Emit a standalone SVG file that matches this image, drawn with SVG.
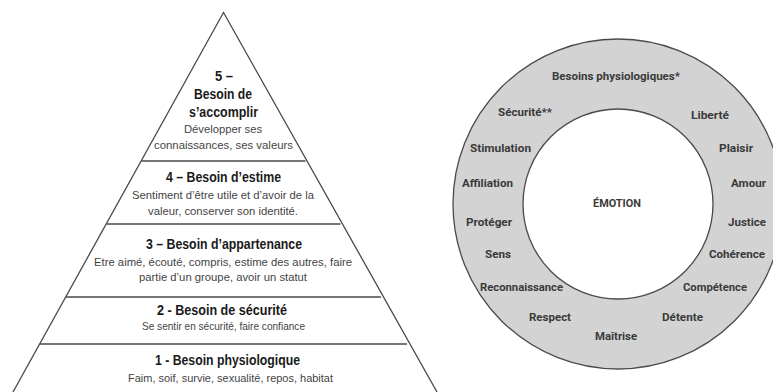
<svg xmlns="http://www.w3.org/2000/svg" width="773" height="392" viewBox="0 0 773 392">
<style>
.edge{fill:none;stroke:#4a4a4a;stroke-width:1.3}
.h{font-family:"Liberation Sans",Arial,sans-serif;font-weight:bold;font-size:14px;fill:#1a1a1a;text-anchor:middle}
.b{font-family:"Liberation Sans",Arial,sans-serif;font-size:11.5px;fill:#444;text-anchor:middle}
.r{font-family:"Roboto","DejaVu Sans",sans-serif;font-weight:bold;font-size:10.5px;fill:#3a3a3a;text-anchor:middle}
</style>
<rect width="773" height="392" fill="#fff"/>
<g id="connectors">
<path class="edge" d="M13,392 L223.5,12.5 L437,392"/>
<line class="edge" x1="141.5" y1="161" x2="305.5" y2="161"/>
<line class="edge" x1="106.5" y1="224" x2="340.5" y2="224"/>
<line class="edge" x1="66" y1="297" x2="381" y2="297"/>
<line class="edge" x1="40" y1="344" x2="407" y2="344"/>
</g>
<g id="level5">
<text class="h" x="224" y="81" textLength="18" lengthAdjust="spacingAndGlyphs">5 –</text>
<text class="h" x="223" y="99" textLength="58" lengthAdjust="spacingAndGlyphs">Besoin de</text>
<text class="h" x="223.5" y="117" textLength="69" lengthAdjust="spacingAndGlyphs">s’accomplir</text>
<text class="b" x="223" y="133" textLength="78" lengthAdjust="spacingAndGlyphs">Développer ses</text>
<text class="b" x="223.5" y="149" textLength="139" lengthAdjust="spacingAndGlyphs">connaissances, ses valeurs</text>
</g>
<g id="level4">
<text class="h" x="223.5" y="182" textLength="115" lengthAdjust="spacingAndGlyphs">4 – Besoin d’estime</text>
<text class="b" x="223" y="199" textLength="182" lengthAdjust="spacingAndGlyphs">Sentiment d’être utile et d’avoir de la</text>
<text class="b" x="223" y="215" textLength="150" lengthAdjust="spacingAndGlyphs">valeur, conserver son identité.</text>
</g>
<g id="level3">
<text class="h" x="224" y="249" textLength="156" lengthAdjust="spacingAndGlyphs">3 – Besoin d’appartenance</text>
<text class="b" x="223" y="266" textLength="258" lengthAdjust="spacingAndGlyphs">Etre aimé, écouté, compris, estime des autres, faire</text>
<text class="b" x="223" y="281" textLength="168" lengthAdjust="spacingAndGlyphs">partie d’un groupe, avoir un statut</text>
</g>
<g id="level2">
<text class="h" x="222" y="315" textLength="130" lengthAdjust="spacingAndGlyphs">2 - Besoin de sécurité</text>
<text class="b" x="223.5" y="330" textLength="163" lengthAdjust="spacingAndGlyphs">Se sentir en sécurité, faire confiance</text>
</g>
<g id="level1">
<text class="h" x="227.5" y="365" textLength="145" lengthAdjust="spacingAndGlyphs">1 - Besoin physiologique</text>
<text class="b" x="230.5" y="382" textLength="205" lengthAdjust="spacingAndGlyphs">Faim, soif, survie, sexualité, repos, habitat</text>
</g>
<g id="ring">
<circle cx="618" cy="204" r="165" fill="#d3d3d3" stroke="#4a4a4a" stroke-width="1.3"/>
<circle cx="618" cy="204" r="95" fill="#fff" stroke="#4a4a4a" stroke-width="1.3"/>
</g>
<g id="emotion">
<text class="r" x="617" y="207" textLength="48" lengthAdjust="spacingAndGlyphs">ÉMOTION</text>
</g>
<g id="needs">
<text class="r" x="616" y="80" textLength="128" lengthAdjust="spacingAndGlyphs">Besoins physiologiques*</text>
<text class="r" x="525" y="116" textLength="54" lengthAdjust="spacingAndGlyphs">Sécurité**</text>
<text class="r" x="710" y="119" textLength="38" lengthAdjust="spacingAndGlyphs">Liberté</text>
<text class="r" x="500.5" y="152" textLength="61" lengthAdjust="spacingAndGlyphs">Stimulation</text>
<text class="r" x="736" y="152" textLength="34" lengthAdjust="spacingAndGlyphs">Plaisir</text>
<text class="r" x="487.5" y="187" textLength="51" lengthAdjust="spacingAndGlyphs">Affiliation</text>
<text class="r" x="748.5" y="187" textLength="35" lengthAdjust="spacingAndGlyphs">Amour</text>
<text class="r" x="489" y="226" textLength="46" lengthAdjust="spacingAndGlyphs">Protéger</text>
<text class="r" x="747" y="226" textLength="38" lengthAdjust="spacingAndGlyphs">Justice</text>
<text class="r" x="498" y="258" textLength="26" lengthAdjust="spacingAndGlyphs">Sens</text>
<text class="r" x="737" y="258" textLength="56" lengthAdjust="spacingAndGlyphs">Cohérence</text>
<text class="r" x="521.5" y="291" textLength="83" lengthAdjust="spacingAndGlyphs">Reconnaissance</text>
<text class="r" x="715" y="291" textLength="64" lengthAdjust="spacingAndGlyphs">Compétence</text>
<text class="r" x="550" y="321" textLength="42" lengthAdjust="spacingAndGlyphs">Respect</text>
<text class="r" x="682.5" y="321" textLength="41" lengthAdjust="spacingAndGlyphs">Détente</text>
<text class="r" x="616" y="340" textLength="42" lengthAdjust="spacingAndGlyphs">Maîtrise</text>
</g>
</svg>
